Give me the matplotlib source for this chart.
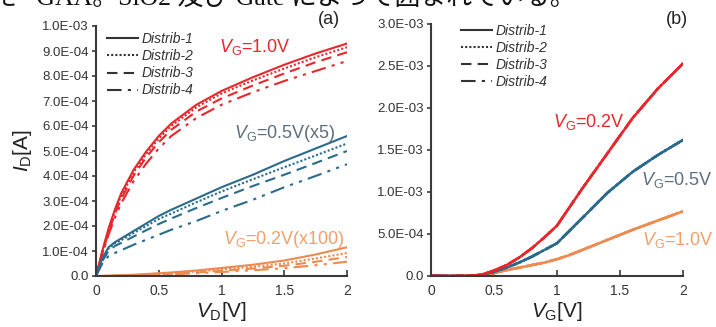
import matplotlib
matplotlib.use("Agg")
import matplotlib.pyplot as plt
from matplotlib.lines import Line2D

plt.rcParams['font.family'] = ['Liberation Sans', 'DejaVu Sans']
plt.rcParams['mathtext.fontset'] = 'custom'
plt.rcParams['mathtext.rm'] = 'Liberation Sans'
plt.rcParams['mathtext.it'] = 'Liberation Sans:italic'

# ---------------- data ----------------
# panel (a): I_D vs V_D  (values in units of 1e-4 A)
vd = [0, 0.05, 0.1, 0.15, 0.2, 0.3, 0.4, 0.5, 0.6, 0.8, 1.0, 1.25, 1.5, 1.75, 2.0]
red_d1 = [0, 1.0, 1.9, 2.65, 3.3, 4.25, 4.98, 5.6, 6.1, 6.85, 7.4, 7.95, 8.45, 8.9, 9.3]
red_d2 = [0, 0.95, 1.85, 2.58, 3.2, 4.15, 4.88, 5.5, 6.0, 6.75, 7.3, 7.82, 8.3, 8.75, 9.15]
red_d3 = [0, 0.9, 1.75, 2.48, 3.08, 4.02, 4.75, 5.35, 5.85, 6.58, 7.1, 7.62, 8.1, 8.55, 8.95]
red_d4 = [0, 0.85, 1.65, 2.33, 2.9, 3.8, 4.5, 5.1, 5.6, 6.32, 6.85, 7.35, 7.8, 8.2, 8.6]
blu_d1 = [0, 0.7, 1.15, 1.35, 1.5, 1.8, 2.1, 2.4, 2.65, 3.1, 3.55, 4.05, 4.6, 5.1, 5.6]
blu_d2 = [0, 0.65, 1.1, 1.3, 1.43, 1.72, 2.0, 2.28, 2.5, 2.95, 3.38, 3.87, 4.35, 4.82, 5.3]
blu_d3 = [0, 0.6, 1.0, 1.2, 1.32, 1.58, 1.83, 2.08, 2.3, 2.72, 3.12, 3.6, 4.05, 4.52, 5.0]
blu_d4 = [0, 0.5, 0.8, 0.92, 1.03, 1.25, 1.45, 1.65, 1.85, 2.2, 2.6, 3.05, 3.55, 4.0, 4.47]
org_d1 = [0, 0.0, 0.01, 0.02, 0.03, 0.05, 0.08, 0.11, 0.14, 0.22, 0.32, 0.45, 0.62, 0.86, 1.15]
org_d2 = [0, 0.0, 0.01, 0.02, 0.03, 0.04, 0.06, 0.09, 0.12, 0.18, 0.26, 0.37, 0.5, 0.7, 0.92]
org_d3 = [0, 0.0, 0.01, 0.01, 0.02, 0.03, 0.05, 0.07, 0.09, 0.14, 0.21, 0.3, 0.41, 0.57, 0.76]
org_d4 = [0, 0.0, 0.0, 0.01, 0.02, 0.03, 0.04, 0.05, 0.07, 0.11, 0.16, 0.23, 0.31, 0.43, 0.57]

# panel (b): I_D vs V_G  (values in units of 1e-3 A)
vg = [0, 0.2, 0.3, 0.4, 0.5, 0.6, 0.7, 0.8, 0.9, 1.0, 1.1, 1.2, 1.4, 1.6, 1.8, 2.0]
b_red = [0, 0, 0.002, 0.015, 0.065, 0.13, 0.22, 0.33, 0.46, 0.6, 0.82, 1.04, 1.46, 1.88, 2.23, 2.53]
b_blu = [0, 0, 0.002, 0.012, 0.05, 0.1, 0.16, 0.23, 0.31, 0.39, 0.54, 0.69, 0.99, 1.24, 1.44, 1.62]
b_org = [0, 0, 0.002, 0.01, 0.035, 0.07, 0.1, 0.13, 0.16, 0.2, 0.25, 0.31, 0.43, 0.55, 0.66, 0.77]

xticks = [0, 0.5, 1, 1.5, 2]
xticklabels = ["0", "0.5", "1", "1.5", "2"]
a_yticks = [i * 1e-4 for i in range(11)]
a_yticklabels = ["0.0", "1.0E-04", "2.0E-04", "3.0E-04", "4.0E-04", "5.0E-04",
                 "6.0E-04", "7.0E-04", "8.0E-04", "9.0E-04", "1.0E-03"]
b_yticks = [i * 5e-4 for i in range(7)]
b_yticklabels = ["0.0", "5.0E-04", "1.0E-03", "1.5E-03", "2.0E-03", "2.5E-03", "3.0E-03"]
legend_labels = ["Distrib-1", "Distrib-2", "Distrib-3", "Distrib-4"]

# ---------------- style ----------------
RED = '#e8272c'
BLUE = '#2a6b8c'
ORANGE = '#ef8a4f'
styles = ['-', (0, (1, 1)), (0, (5, 3)), (0, (7, 3, 1.5, 3, 1.5, 3))]
AXC = '#3a3a3a'

fig = plt.figure(figsize=(7.16, 3.27), dpi=100)

# clipped Japanese caption at top
fig.text(-9 / 716, 1 - 11 / 327, "た   GAA。SiO2 及び Gate によって囲まれている。",
         family=['Liberation Serif', 'Noto Sans CJK JP'], fontsize=18.6,
         va='bottom', ha='left', color='#111111')

axA = fig.add_axes([96 / 716, 51 / 327, 251 / 716, 250 / 327])
axB = fig.add_axes([431 / 716, 51 / 327, 252 / 716, 252 / 327])


def style_axes(ax, yticks, yticklabels, ymax):
    ax.set_xlim(0, 2)
    ax.set_ylim(0, ymax)
    for s in ['top', 'right']:
        ax.spines[s].set_visible(False)
    for s in ['left', 'bottom']:
        ax.spines[s].set_color(AXC)
        ax.spines[s].set_linewidth(1.5)
    ax.set_xticks(xticks)
    ax.set_xticklabels(xticklabels, fontsize=10, color='#333333')
    ax.set_yticks(yticks)
    ax.set_yticklabels(yticklabels, fontsize=9.5, color='#333333')
    ax.tick_params(axis='x', direction='in', length=4, width=1.2, color=AXC, pad=6)
    ax.tick_params(axis='y', direction='out', length=3, width=1.2, color=AXC, pad=2)
    ax.patch.set_alpha(0)


# panel (a)
for data, ls in zip([red_d1, red_d2, red_d3, red_d4], styles):
    axA.plot(vd, [v * 1e-4 for v in data], color=RED, ls=ls, lw=1.5)
for data, ls in zip([blu_d1, blu_d2, blu_d3, blu_d4], styles):
    axA.plot(vd, [v * 1e-4 for v in data], color=BLUE, ls=ls, lw=1.5)
for data, ls in zip([org_d1, org_d2, org_d3, org_d4], styles):
    axA.plot(vd, [v * 1e-4 for v in data], color=ORANGE, ls=ls, lw=1.5)
style_axes(axA, a_yticks, a_yticklabels, 1e-3)

# panel (b)
for data, col in [(b_org, ORANGE), (b_blu, BLUE), (b_red, RED)]:
    for ls in styles:
        axB.plot(vg, [v * 1e-3 for v in data], color=col, ls=ls, lw=1.8)
style_axes(axB, b_yticks, b_yticklabels, 3e-3)

# axis labels
axA.set_ylabel(r'$\mathit{I}_{\mathrm{D}}$[A]', fontsize=15, labelpad=6, color='#222222')
axA.set_xlabel(r'$\mathit{V}_{\mathrm{D}}$[V]', fontsize=15, labelpad=1, color='#222222')
axB.set_xlabel(r'$\mathit{V}_{\mathrm{G}}$[V]', fontsize=15, labelpad=1, color='#222222')

# legends
handles = [Line2D([], [], color='#333333', ls=ls, lw=1.5) for ls in styles]
for ax, anchor in [(axA, (0.045, 0.975)), (axB, (0.12, 1.0))]:
    ax.legend(handles, legend_labels, loc='upper left', bbox_to_anchor=anchor,
              frameon=False, prop={'style': 'italic', 'size': 10},
              handlelength=2.2, handletextpad=0.25, labelspacing=0.22,
              borderpad=0, borderaxespad=0, labelcolor='#333333')

# annotations
txt_kw = dict(fontsize=13, ha='center', va='center', clip_on=False)
axA.text(0.633, 0.916, r'$\mathit{V}_{\mathrm{G}}$=1.0V', color=RED, transform=axA.transAxes, **txt_kw)
axA.text(0.753, 0.568, r'$\mathit{V}_{\mathrm{G}}$=0.5V(x5)', color='#5e6e7e', transform=axA.transAxes, **txt_kw)
axA.text(0.749, 0.148, r'$\mathit{V}_{\mathrm{G}}$=0.2V(x100)', color='#f0a06c', transform=axA.transAxes, **txt_kw)
axB.text(0.627, 0.611, r'$\mathit{V}_{\mathrm{G}}$=0.2V', color=RED, transform=axB.transAxes, **txt_kw)
axB.text(0.976, 0.381, r'$\mathit{V}_{\mathrm{G}}$=0.5V', color='#5e6e7e', transform=axB.transAxes, **txt_kw)
axB.text(0.980, 0.143, r'$\mathit{V}_{\mathrm{G}}$=1.0V', color='#f0a06c', transform=axB.transAxes, **txt_kw)

# panel tags
fig.text(329 / 716, 1 - 20 / 327, '(a)', fontsize=13, ha='center', va='center', color='#222222')
fig.text(677 / 716, 1 - 20 / 327, '(b)', fontsize=13, ha='center', va='center', color='#222222')

fig.savefig('out.png', dpi=100)
